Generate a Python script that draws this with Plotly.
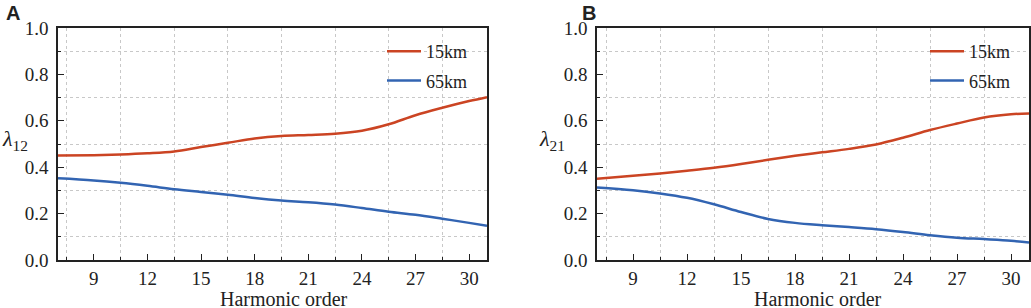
import plotly.graph_objects as go

harmonic_order = [7, 9, 10.5, 12, 13.5, 15, 16.5, 18, 19.5, 21, 22.5, 24, 25.5, 27, 28.5, 30, 31]
a_15km = [0.450, 0.452, 0.455, 0.460, 0.468, 0.487, 0.505, 0.524, 0.535, 0.539, 0.544, 0.557, 0.585, 0.624, 0.656, 0.685, 0.702]
a_65km = [0.352, 0.343, 0.333, 0.320, 0.305, 0.293, 0.281, 0.267, 0.256, 0.249, 0.239, 0.224, 0.208, 0.195, 0.178, 0.160, 0.148]
b_15km = [0.350, 0.363, 0.373, 0.385, 0.398, 0.414, 0.432, 0.449, 0.464, 0.479, 0.498, 0.527, 0.560, 0.588, 0.614, 0.628, 0.632]
b_65km = [0.313, 0.301, 0.287, 0.268, 0.240, 0.207, 0.177, 0.160, 0.150, 0.142, 0.133, 0.121, 0.107, 0.096, 0.090, 0.083, 0.075]
series_names = ["15km", "65km"]
x_tick_values = [9, 12, 15, 18, 21, 24, 27, 30]
y_tick_values = [0.0, 0.2, 0.4, 0.6, 0.8, 1.0]
y_tick_labels = ["0.0", "0.2", "0.4", "0.6", "0.8", "1.0"]

RED = "#CB4423"
BLUE = "#3264B2"
SERIF = "Liberation Serif"
W, H = 1031, 308

fig = go.Figure()
fig.add_trace(go.Scatter(x=harmonic_order, y=a_15km, name=series_names[0], mode="lines",
                         line=dict(color=RED, width=2.5, shape="spline"), xaxis="x", yaxis="y",
                         legend="legend", legendgroup="a1"))
fig.add_trace(go.Scatter(x=harmonic_order, y=a_65km, name=series_names[1], mode="lines",
                         line=dict(color=BLUE, width=2.5, shape="spline"), xaxis="x", yaxis="y",
                         legend="legend", legendgroup="a2"))
fig.add_trace(go.Scatter(x=harmonic_order, y=b_15km, name=series_names[0], mode="lines",
                         line=dict(color=RED, width=2.5, shape="spline"), xaxis="x2", yaxis="y2",
                         legend="legend2", legendgroup="b1"))
fig.add_trace(go.Scatter(x=harmonic_order, y=b_65km, name=series_names[1], mode="lines",
                         line=dict(color=BLUE, width=2.5, shape="spline"), xaxis="x2", yaxis="y2",
                         legend="legend2", legendgroup="b2"))

ydom = [(H - 260) / H, (H - 28) / H]

def xaxis(domain, anchor):
    return dict(domain=domain, anchor=anchor, range=[7, 31], tickvals=x_tick_values,
                ticks="inside", ticklen=6, tickwidth=1.3, tickcolor="#222",
                showline=True, linecolor="#222", linewidth=1.6, mirror=True,
                showgrid=False, zeroline=False, automargin=False,
                tickfont=dict(family=SERIF, size=19, color="#222"),
                ticklabelstandoff=0,
                minor=dict(tick0=7.5, dtick=3, ticks="inside", ticklen=3, tickwidth=1.2,
                           tickcolor="#222", showgrid=True, gridcolor="#c8c8c8",
                           griddash="dot", gridwidth=1))

def yaxis(domain, anchor):
    return dict(domain=domain, anchor=anchor, range=[0, 1], tickvals=y_tick_values,
                ticktext=y_tick_labels,
                ticks="inside", ticklen=6, tickwidth=1.3, tickcolor="#222",
                showline=True, linecolor="#222", linewidth=1.6, mirror=True,
                showgrid=False, zeroline=False, automargin=False,
                tickfont=dict(family=SERIF, size=19, color="#222"),
                ticklabelstandoff=4,
                minor=dict(tick0=0.1, dtick=0.2, ticks="inside", ticklen=3, tickwidth=1.2,
                           tickcolor="#222", showgrid=True, gridcolor="#c8c8c8",
                           griddash="dot", gridwidth=1))

legend_common = dict(font=dict(family=SERIF, size=18, color="#222"), bgcolor="rgba(0,0,0,0)",
                     borderwidth=0, tracegroupgap=3, xanchor="left", yanchor="top",
                     itemwidth=34)

fig.update_layout(
    width=W, height=H,
    margin=dict(l=0, r=0, t=0, b=0, autoexpand=False),
    paper_bgcolor="white", plot_bgcolor="white",
    xaxis=xaxis([58 / W, 487 / W], "y"),
    yaxis=yaxis(ydom, "x"),
    xaxis2=xaxis([597 / W, 1029 / W], "y2"),
    yaxis2=yaxis(ydom, "x2"),
    legend=dict(x=382 / W, y=(H - 33) / H, **legend_common),
    legend2=dict(x=925 / W, y=(H - 33) / H, **legend_common),
    annotations=[
        dict(text="<b>A</b>", x=4 / W, y=1.0, xref="paper", yref="paper",
             xanchor="left", yanchor="top", showarrow=False,
             font=dict(family="Liberation Sans", size=20, color="#222")),
        dict(text="<b>B</b>", x=580 / W, y=1.0, xref="paper", yref="paper",
             xanchor="left", yanchor="top", showarrow=False,
             font=dict(family="Liberation Sans", size=20, color="#222")),
        dict(text="<i>λ</i><sub>12</sub>", x=15 / W, y=(H - 140) / H, xref="paper", yref="paper",
             xanchor="center", yanchor="middle", showarrow=False,
             font=dict(family=SERIF, size=22, color="#222")),
        dict(text="<i>λ</i><sub>21</sub>", x=552 / W, y=(H - 140) / H, xref="paper", yref="paper",
             xanchor="center", yanchor="middle", showarrow=False,
             font=dict(family=SERIF, size=22, color="#222")),
        dict(text="Harmonic order", x=284 / W, y=(H - 299) / H, xref="paper", yref="paper",
             xanchor="center", yanchor="middle", showarrow=False,
             font=dict(family=SERIF, size=20, color="#222")),
        dict(text="Harmonic order", x=818 / W, y=(H - 299) / H, xref="paper", yref="paper",
             xanchor="center", yanchor="middle", showarrow=False,
             font=dict(family=SERIF, size=20, color="#222")),
    ],
)

fig.write_html("out.html", config={"displayModeBar": False},
               post_script="document.body.style.margin='0px';")
